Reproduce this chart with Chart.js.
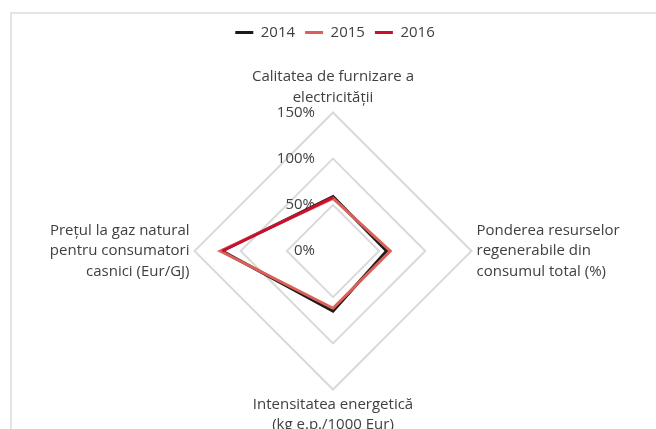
<!DOCTYPE html>
<html>
<head>
<meta charset="utf-8">
<script src="https://cdn.jsdelivr.net/npm/chart.js@4/dist/chart.umd.min.js"></script>
<style>
  html, body { margin: 0; padding: 0; background: #fff; overflow: hidden; }
  #frame { position: absolute; left: 10px; top: 12px; width: 700px; height: 500px; border: 2px solid #e4e4e4; box-sizing: border-box; }
  #box { position: absolute; left: 0; top: 0; width: 656px; height: 436px; }
</style>
</head>
<body>
<div id="frame"></div>
<div id="box"><canvas id="radar-chart"></canvas></div>
<script>
// radar chart - indicatori energie

const categories = [
  ['Calitatea de furnizare a', 'electricității'],
  ['Ponderea resurselor', 'regenerabile din', 'consumul total (%)'],
  ['Intensitatea energetică', '(kg e.p./1000 Eur)'],
  ['Prețul la gaz natural', 'pentru consumatori', 'casnici (Eur/GJ)']
];
const years = ['2014', '2015', '2016'];
const values2014 = [59, 58, 65, 120];
const values2015 = [57, 62, 62, 122];
const values2016 = [58, null, null, 120]; // only two indicators for 2016
const tickValues = [0, 50, 100, 150];

const textColor = '#404040';
const fontFamily = '"Open Sans", Lato, sans-serif';

// extra space under the legend
const legendMargin = {
  id: 'legendMargin',
  beforeInit(chart) {
    const fit = chart.legend.fit;
    chart.legend.fit = function () {
      fit.bind(chart.legend)();
      this.height += 17;
    };
  }
};

// tick labels sit left of the vertical axis
const tickLabels = {
  id: 'tickLabels',
  beforeDatasetsDraw(chart) {
    const scale = chart.scales.r;
    const ctx = chart.ctx;
    ctx.save();
    ctx.font = '15px ' + fontFamily;
    ctx.fillStyle = textColor;
    ctx.textAlign = 'right';
    ctx.textBaseline = 'middle';
    tickValues.forEach(v => {
      const d = scale.getDistanceFromCenterForValue(v);
      ctx.fillText(v + '%', scale.xCenter - 18, scale.yCenter - d);
    });
    ctx.restore();
  }
};

const radarData = {
  labels: categories,
  datasets: [{
    label: years[0],
    data: values2014,
    borderColor: '#1a1a1a',
    backgroundColor: '#1a1a1a',
    borderWidth: 3,
    fill: false,
    pointRadius: 0,
    order: 3
  }, {
    label: years[1],
    data: values2015,
    borderColor: '#dc6058',
    backgroundColor: '#dc6058',
    borderWidth: 3,
    fill: false,
    pointRadius: 0,
    order: 2
  }, {
    label: years[2],
    data: values2016,
    borderColor: '#c8102e',
    backgroundColor: '#c8102e',
    borderWidth: 3,
    fill: false,
    pointRadius: 0,
    spanGaps: false,
    order: 1
  }]
};

const radarConfig = {
  type: 'radar',
  data: radarData,
  options: {
    responsive: true,
    maintainAspectRatio: false,
    animation: false,
    layout: { padding: { top: 15, left: 14, right: 0, bottom: 0 } },
    elements: { line: { tension: 0, borderJoinStyle: 'miter' } },
    plugins: {
      legend: {
        position: 'top',
        labels: {
          usePointStyle: true,
          pointStyle: 'line',
          pointStyleWidth: 18,
          color: textColor,
          font: { size: 15, family: fontFamily },
          padding: 10,
          sort: (a, b) => a.datasetIndex - b.datasetIndex
        }
      },
      tooltip: { enabled: false }
    },
    scales: {
      r: {
        min: 0,
        max: 150,
        ticks: { stepSize: 50, display: false },
        grid: { circular: false, color: '#d9d9d9', lineWidth: 2 },
        angleLines: { display: false },
        pointLabels: {
          color: textColor,
          font: { size: 15, family: fontFamily, lineHeight: 1.35 },
          padding: 5
        }
      }
    }
  },
  plugins: [legendMargin, tickLabels]
};

var radarChart = new Chart(
  document.getElementById('radar-chart'),
  radarConfig
);
</script>
</body>
</html>
